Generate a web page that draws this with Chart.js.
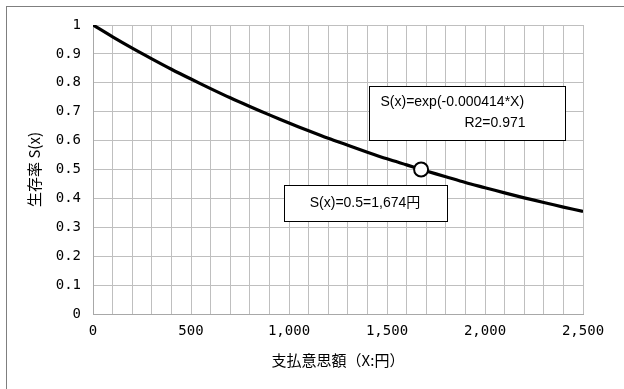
<!DOCTYPE html>
<html>
<head>
<meta charset="utf-8">
<script src="https://cdn.jsdelivr.net/npm/chart.js@4/dist/chart.umd.min.js"></script>
<style>
html,body{margin:0;padding:0;background:#fff;}
#wrap{width:624px;height:389px;position:relative;overflow:hidden;background:#fff;}
</style>
</head>
<body>
<div id="wrap"><canvas id="c" width="624" height="389"></canvas></div>
<script>
// ---- data ----
const paymentYen = [0,100,200,300,400,500,600,700,800,900,1000,1100,1200,1300,1400,1500,1600,1700,1800,1900,2000,2100,2200,2300,2400,2500];
const survivalRate = [1.000,0.959,0.920,0.883,0.847,0.813,0.780,0.748,0.718,0.689,0.661,0.634,0.608,0.584,0.560,0.537,0.516,0.495,0.475,0.455,0.437,0.419,0.402,0.386,0.370,0.355];
const medianPoint = {x:1674, y:0.5};
const xTickLabels = ['0','500','1,000','1,500','2,000','2,500'];
const yTickLabels = ['0','0.1','0.2','0.3','0.4','0.5','0.6','0.7','0.8','0.9','1'];
const xTitle = '支払意思額（X:円）';
const yTitle = '生存率 S(x)';
const noteFormula = ['S(x)=exp(-0.000414*X)','R2=0.971'];
const noteMedian = 'S(x)=0.5=1,674円';

const curve = paymentYen.map((x,i)=>({x:x,y:survivalRate[i]}));

const PLOT_L = 93, PLOT_T = 25, PLOT_R = 583, PLOT_B = 314;
const W = 624, H = 389;
const PAD_L = 25, PAD_B = 20;

const frame = {
  id:'frame',
  afterDraw(chart){
    const ctx = chart.ctx;
    ctx.save();
    ctx.fillStyle = '#7f7f7f';
    ctx.fillRect(6, 6, W, 1);
    ctx.fillRect(6, 6, 1, H);
    ctx.restore();
  }
};

const notes = {
  id:'notes',
  afterDatasetsDraw(chart){
    const ctx = chart.ctx, xs = chart.scales.x, ys = chart.scales.y;
    function box(x0,x1,y0,y1){
      const l=Math.round(xs.getPixelForValue(x0))+0.5, r=Math.round(xs.getPixelForValue(x1))+0.5;
      const t=Math.round(ys.getPixelForValue(y0))+0.5, b=Math.round(ys.getPixelForValue(y1))+0.5;
      ctx.fillStyle='#fff'; ctx.fillRect(l,t,r-l,b-t);
      ctx.strokeStyle='#000'; ctx.lineWidth=1; ctx.strokeRect(l,t,r-l,b-t);
      return {l,r,t,b};
    }
    ctx.save();
    ctx.font='14px "Liberation Sans", "Noto Sans CJK JP", sans-serif';
    ctx.textBaseline='middle';
    const b1 = box(1408,2408,0.789,0.602);
    ctx.fillStyle='#000';
    ctx.textAlign='left';
    ctx.fillText(noteFormula[0], b1.l+11, b1.t+16);
    ctx.textAlign='right';
    ctx.fillText(noteFormula[1], b1.r-40, b1.t+37);
    const b2 = box(974,1806,0.446,0.322);
    ctx.fillStyle='#000';
    ctx.textAlign='center';
    ctx.fillText(noteMedian, (b2.l+b2.r)/2-1, (b2.t+b2.b)/2);
    ctx.restore();
  }
};

const tickFont = {family:'"DejaVu Sans Mono", "Liberation Mono", monospace', size:14};

new Chart(document.getElementById('c'),{
  type:'scatter',
  data:{datasets:[
    {data:[medianPoint], showLine:false, pointRadius:7, pointHoverRadius:7,
     pointBackgroundColor:'#fff', pointBorderColor:'#000', pointBorderWidth:2, order:0},
    {data:curve, showLine:true, borderColor:'#000', borderWidth:3.2, pointRadius:0,
     fill:false, tension:0.3, order:1}
  ]},
  options:{
    responsive:false, animation:false, devicePixelRatio:1,
    layout:{padding:{left:PAD_L, top:PLOT_T, right:W-PLOT_R, bottom:PAD_B}},
    plugins:{legend:{display:false}, tooltip:{enabled:false}},
    scales:{
      x:{type:'linear', min:0, max:2500,
        grid:{color:'#bfbfbf', lineWidth:1, drawTicks:false},
        border:{color:'#a8a8a8', width:1},
        ticks:{stepSize:100, autoSkip:false, maxRotation:0, padding:9, color:'#000', font:tickFont,
          callback:(v)=> (v%500===0 ? xTickLabels[v/500] : '')},
        title:{display:true, text:xTitle, color:'#000', padding:{top:2,bottom:0},
          font:{family:'"Noto Sans CJK JP", sans-serif', size:15}},
        afterFit(s){ s.height = H-PLOT_B-PAD_B; }
      },
      y:{type:'linear', min:0, max:1,
        grid:{color:'#bfbfbf', lineWidth:1, drawTicks:false},
        border:{color:'#a8a8a8', width:1},
        ticks:{stepSize:0.1, autoSkip:false, padding:12, color:'#000', font:tickFont,
          callback:(v)=> yTickLabels[Math.round(v*10)]},
        title:{display:true, text:yTitle, color:'#000', padding:{top:0,bottom:4},
          font:{family:'"Noto Sans CJK JP", sans-serif', size:15}},
        afterFit(s){ s.width = PLOT_L-PAD_L; }
      }
    }
  },
  plugins:[notes, frame]
});
</script>
</body>
</html>
